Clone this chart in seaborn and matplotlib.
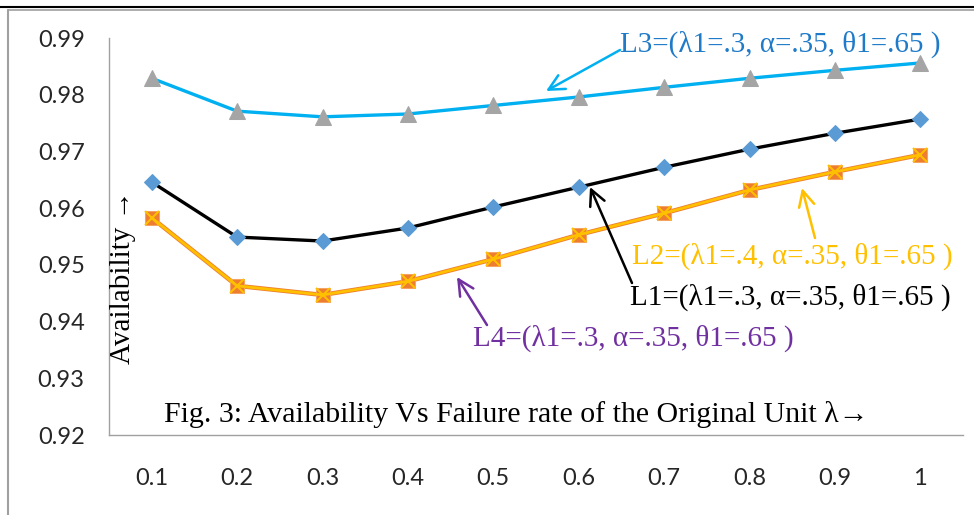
import matplotlib
matplotlib.use("Agg")
import matplotlib.pyplot as plt
import seaborn as sns
import numpy as np
from matplotlib.lines import Line2D

# ---- data ----
failure_rate = ["0.1", "0.2", "0.3", "0.4", "0.5", "0.6", "0.7", "0.8", "0.9", "1"]
L1 = [0.9646, 0.9549, 0.9542, 0.9565, 0.9602, 0.9637, 0.9672, 0.9704, 0.9732, 0.9757]
L2 = [0.9583, 0.9463, 0.9447, 0.9471, 0.9510, 0.9553, 0.9591, 0.9632, 0.9664, 0.9694]
L3 = [0.9829, 0.9771, 0.9761, 0.9766, 0.9781, 0.9796, 0.9813, 0.9829, 0.9843, 0.9856]
L4 = [0.9583, 0.9463, 0.9447, 0.9471, 0.9510, 0.9553, 0.9591, 0.9632, 0.9664, 0.9694]
y_ticks = [0.92, 0.93, 0.94, 0.95, 0.96, 0.97, 0.98, 0.99]

label_L1 = "L1=(λ1=.3, α=.35, θ1=.65 )"
label_L2 = "L2=(λ1=.4, α=.35, θ1=.65 )"
label_L3 = "L3=(λ1=.3, α=.35, θ1=.65 )"
label_L4 = "L4=(λ1=.3, α=.35, θ1=.65 )"
y_label = "Availability →"
caption = "Fig. 3: Availability Vs Failure rate of the Original Unit λ→"

sns.set_style("white")
plt.rcParams['font.family'] = ['Lato', 'DejaVu Sans']

fig = plt.figure(figsize=(9.74, 5.15), dpi=100)
ax = fig.add_axes([109/974, 1-435/515, (963-109)/974, (435-38)/515])

pos = np.arange(len(failure_rate))

sns.lineplot(x=pos, y=L3, ax=ax, color="#00B0F0", lw=2.4, marker="^", markersize=11,
             markerfacecolor="#A5A5A5", markeredgecolor="#A5A5A5", zorder=3)
sns.lineplot(x=pos, y=L1, ax=ax, color="black", lw=2.4, marker="D", markersize=8.5,
             markerfacecolor="#5B9BD5", markeredgecolor="#5B9BD5", zorder=3)
sns.lineplot(x=pos, y=L4, ax=ax, color="#ED7D31", lw=3.2, marker="s", markersize=10.5,
             markerfacecolor="#ED7D31", markeredgecolor="#F4A460", zorder=3)
sns.lineplot(x=pos, y=L2, ax=ax, color="#FFC000", lw=2.0, marker="x", markersize=9.5,
             markeredgewidth=1.5, markeredgecolor="#FFC000", zorder=4)

ax.set_xlim(-0.5, len(failure_rate) - 0.5)
ax.set_ylim(0.92, 0.99)
ax.set_yticks(y_ticks)
ax.set_yticklabels([f"{v:.2f}" for v in y_ticks])
ax.set_xticks(np.arange(len(failure_rate) + 1) - 0.5)
ax.set_xticklabels([])
ax.set_xticks(pos, minor=True)
ax.set_xticklabels(failure_rate, minor=True)
ax.tick_params(axis='x', which='major', direction='out', length=6, width=1, color="#A0A0A0")
ax.tick_params(axis='x', which='minor', length=0, pad=24, labelsize=17)
ax.tick_params(axis='y', direction='out', length=6.5, width=1, color="#A0A0A0", pad=11, labelsize=17)
ax.set_xlabel("")
ax.set_ylabel("")

for s in ['top', 'right']:
    ax.spines[s].set_visible(False)
for s in ['left', 'bottom']:
    ax.spines[s].set_color("#A0A0A0")
    ax.spines[s].set_linewidth(1)

serif = ['Liberation Serif', 'DejaVu Serif']

def to_data(px, py):
    return ((px - 109) / 85.4 - 0.5, 0.99 - (py - 38) / 5671.0)

def arrow(tail, head, color):
    ax.annotate('', xy=to_data(*head), xytext=to_data(*tail),
                arrowprops=dict(arrowstyle='->', color=color, lw=1.8,
                                mutation_scale=28, shrinkA=0, shrinkB=0), zorder=5)

fs = 21
ax.text(*to_data(620, 44), label_L3, family=serif, fontsize=fs, color="#1F7AC8",
        ha='left', va='center')
arrow((620, 50), (546, 91), "#00B0F0")

ax.text(*to_data(632, 256), label_L2, family=serif, fontsize=fs, color="#FFC000",
        ha='left', va='center')
arrow((815, 238), (802, 188), "#FFC000")

ax.text(*to_data(630, 297), label_L1, family=serif, fontsize=fs, color="black",
        ha='left', va='center')
arrow((632, 283), (590, 187), "black")

ax.text(*to_data(473, 338), label_L4, family=serif, fontsize=fs, color="#7030A0",
        ha='left', va='center')
arrow((487, 325), (457, 277), "#7030A0")

ax.text(*to_data(123, 277), y_label, family=serif, fontsize=21, color="black",
        ha='center', va='center', rotation=90)
ax.text(*to_data(516, 414), caption, family=serif, fontsize=21.5, color="black",
        ha='center', va='center')

# frame lines of the original figure
fig.add_artist(Line2D([0, 1], [1 - 7/515, 1 - 7/515], color="black", lw=1.5))
fig.add_artist(Line2D([8/974, 1], [1 - 9.5/515, 1 - 9.5/515], color="#A0A0A0", lw=1.2))
fig.add_artist(Line2D([8/974, 8/974], [0, 1 - 9.5/515], color="#A0A0A0", lw=1.5))

fig.savefig("out.png", dpi=100)
